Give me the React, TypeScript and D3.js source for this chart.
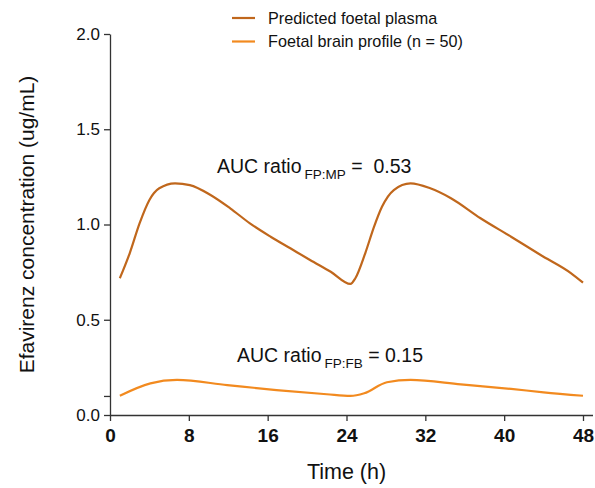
import React, { useEffect, useRef } from "react";
import * as d3 from "d3";

// time (h) / concentration (ug/mL)
const plasmaTime = [1, 2, 3, 4, 5, 6.6, 8.1, 10.2, 12.2, 14.2, 16.3, 18.3, 20.3, 22.4, 24.4, 24.9, 25.9, 26.8, 27.6, 28.8, 30.5, 32.5, 34.6, 37.6, 40.7, 43.7, 46.8, 48];
const plasmaConc = [0.718, 0.849, 1.006, 1.129, 1.19, 1.216, 1.207, 1.155, 1.085, 1.006, 0.936, 0.875, 0.814, 0.752, 0.688, 0.718, 0.849, 0.989, 1.093, 1.181, 1.216, 1.19, 1.138, 1.033, 0.936, 0.84, 0.744, 0.695];

const brainTime = [1, 4.1, 6.8, 11.9, 16.9, 22, 24.4, 25.8, 28.1, 30.5, 35.6, 40.7, 44, 48];
const brainConc = [0.101, 0.166, 0.184, 0.157, 0.131, 0.109, 0.1, 0.114, 0.172, 0.184, 0.161, 0.137, 0.119, 0.101];

const xTicks = [0, 8, 16, 24, 32, 40, 48];
const yTicks = [0, 0.5, 1.0, 1.5, 2.0];
const yMinorTicks = [0.1];

const seriesNames = ["Predicted foetal plasma", "Foetal brain profile (n = 50)"];
const seriesColors = ["#c0671c", "#f28a1f"];

const W = 595;
const H = 488;
const left = 110;
const right = 583;
const top = 34;
const bottom = 415;

export default function App() {
  const svgRef = useRef<SVGSVGElement>(null);

  useEffect(() => {
    document.body.style.margin = "0";
    const svg = d3.select(svgRef.current);
    svg.selectAll("*").remove();

    const x = d3.scaleLinear().domain([0, 48]).range([left, right]);
    const y = d3.scaleLinear().domain([0, 2]).range([bottom, top]);
    const font = "Liberation Sans, Arial, sans-serif";

    // axes
    const xAxis = svg.append("g")
      .attr("transform", `translate(0,${bottom})`)
      .call(d3.axisBottom(x).tickValues(xTicks).tickSize(6).tickSizeOuter(0).tickFormat(d3.format("d")));
    xAxis.select(".domain").attr("d", `M${left},0.5H${right + 10}`);
    xAxis.selectAll("text")
      .attr("font-family", font).attr("font-size", 19).attr("font-weight", "bold")
      .attr("fill", "#111").attr("y", 27).attr("dy", 0);

    const yAxis = svg.append("g")
      .attr("transform", `translate(${left},0)`)
      .call(d3.axisLeft(y).tickValues(yTicks).tickSize(6).tickSizeOuter(0).tickFormat(d3.format(".1f")));
    yAxis.selectAll("text")
      .attr("font-family", font).attr("font-size", 17).attr("fill", "#111").attr("x", -10);
    yAxis.selectAll(".minor").data(yMinorTicks).join("line")
      .attr("x1", -6).attr("x2", 0)
      .attr("y1", (d) => y(d) + 0.5).attr("y2", (d) => y(d) + 0.5);
    svg.selectAll(".domain, .tick line").attr("stroke", "#333").attr("stroke-width", 1.3);
    yAxis.selectAll("line").attr("stroke", "#333").attr("stroke-width", 1.3);

    // axis titles
    svg.append("text")
      .attr("x", (left + right) / 2).attr("y", 479)
      .attr("text-anchor", "middle")
      .attr("font-family", font).attr("font-size", 21.5).attr("fill", "#111")
      .text("Time (h)");
    svg.append("text")
      .attr("transform", `translate(34,${(top + bottom) / 2}) rotate(-90)`)
      .attr("text-anchor", "middle")
      .attr("font-family", font).attr("font-size", 21).attr("fill", "#111")
      .text("Efavirenz concentration (ug/mL)");

    // curves
    const line = d3.line<[number, number]>()
      .x((d) => x(d[0])).y((d) => y(d[1]))
      .curve(d3.curveMonotoneX);
    const series = [
      d3.zip(plasmaTime, plasmaConc) as [number, number][],
      d3.zip(brainTime, brainConc) as [number, number][],
    ];
    series.forEach((pts, i) => {
      svg.append("path")
        .attr("d", line(pts))
        .attr("fill", "none")
        .attr("stroke", seriesColors[i])
        .attr("stroke-width", 2.2)
        .attr("stroke-linejoin", "round");
    });

    // legend
    const legend = svg.append("g").attr("transform", "translate(232,18)");
    seriesNames.forEach((name, i) => {
      const g = legend.append("g").attr("transform", `translate(0,${i * 23.5})`);
      g.append("line").attr("x1", 0).attr("x2", 23).attr("y1", 0).attr("y2", 0)
        .attr("stroke", seriesColors[i]).attr("stroke-width", 2.2);
      g.append("text").attr("x", 36).attr("y", 5.5)
        .attr("font-family", font).attr("font-size", 16.2).attr("fill", "#111")
        .text(name);
    });

    // AUC annotations
    const ann = [
      { x: 217, y: 173, sub: "FP:MP", rest: " =  0.53" },
      { x: 237, y: 362, sub: "FP:FB", rest: " = 0.15" },
    ];
    ann.forEach((a) => {
      const t = svg.append("text")
        .attr("x", a.x).attr("y", a.y)
        .style("white-space", "pre")
        .attr("font-family", font).attr("font-size", 19.5).attr("fill", "#111");
      t.append("tspan").text("AUC ratio");
      t.append("tspan").attr("font-size", 13.5).attr("dx", 3).attr("dy", 6).text(a.sub);
      t.append("tspan").attr("dy", -6).text(a.rest);
    });
  }, []);

  return (
    <svg ref={svgRef} width={W} height={H} style={{ display: "block", background: "#fff" }} />
  );
}
